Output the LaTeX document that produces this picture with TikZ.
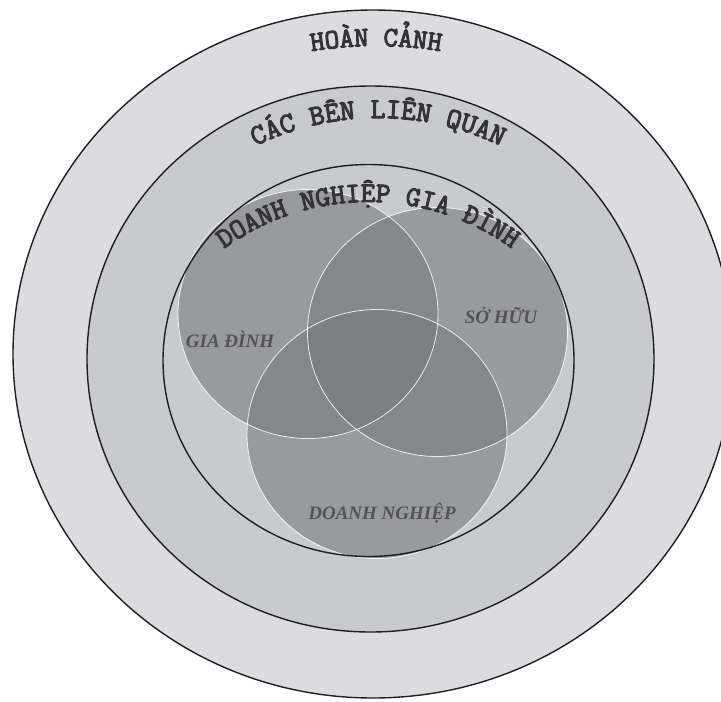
\documentclass[tikz,border=0pt]{standalone}
\usepackage{fontspec}
\setmainfont{Liberation Serif}
\newfontfamily\curvefont{Latin Modern Mono}[FakeBold=3.6]
\usetikzlibrary{decorations.text}
\definecolor{ringA}{RGB}{220,220,224}
\definecolor{ringB}{RGB}{200,202,205}
\definecolor{venn}{RGB}{120,122,125}
\definecolor{curvetxt}{RGB}{52,52,55}
\definecolor{labeltxt}{RGB}{82,82,88}
\tikzset{
  ring/.style={draw=black!88, line width=1.4pt},
  vennfill/.style={fill=venn, fill opacity=0.59},
  vennline/.style={draw=white, line width=0.8pt, draw opacity=0.85},
  arctext/.style={decorate, decoration={text along path, text align=center, text color=curvetxt}},
  lbl/.style={text=labeltxt, font=\fontsize{19}{21}\selectfont\bfseries\itshape, anchor=base, inner sep=0pt}
}
\begin{document}
\begin{tikzpicture}[x=1pt,y=1pt]
\useasboundingbox (0,0) rectangle (721,-702);
\clip (0,0) rectangle (721,-702);
\fill[white] (0,0) rectangle (721,-702);
% rings
\path[ring, fill=ringA] (373,-354) ellipse [x radius=360, y radius=344];
\path[ring, fill=ringB] (370.5,-359) ellipse [x radius=283.5, y radius=273];
\fill[ringB] (368.5,-360.5) ellipse [x radius=205.5, y radius=196];
% venn circles
\fill[vennfill] (308,-314) ellipse [x radius=130, y radius=124.5];
\fill[vennfill] (437.5,-332) ellipse [x radius=130, y radius=124.5];
\fill[vennfill] (377,-434) ellipse [x radius=130, y radius=124.5];
\path[vennline] (308,-314) ellipse [x radius=130, y radius=124.5];
\path[vennline] (437.5,-332) ellipse [x radius=130, y radius=124.5];
\path[vennline] (377,-434) ellipse [x radius=130, y radius=124.5];
% inner ring outline
\path[ring] (368.5,-360.5) ellipse [x radius=205.5, y radius=196];
% curved texts
\path[arctext, decoration={text={|\curvefont\fontsize{28}{30}\selectfont|HOÀN CẢNH}}]
  (376,-446) ++(120:400) arc[start angle=120, end angle=60, radius=400];
\path[arctext, decoration={text={|\curvefont\fontsize{29}{31}\selectfont|CÁC BÊN LIÊN QUAN}}]
  (378,-400) ++(145:282) arc[start angle=145, end angle=35, radius=282];
\path[arctext, decoration={text={|\curvefont\fontsize{28.5}{30}\selectfont|DOANH NGHIỆP GIA ĐÌNH}}]
  (368,-447) ++(150:245) arc[start angle=150, end angle=30, radius=245];
% labels
\node[lbl] (giadinh) at (230,-347) {GIA ĐÌNH};
\node[lbl] (sohuu) at (501,-323) {SỞ HỮU};
\node[lbl] (doanhnghiep) at (382,-519) {DOANH NGHIỆP};
\end{tikzpicture}
\end{document}
